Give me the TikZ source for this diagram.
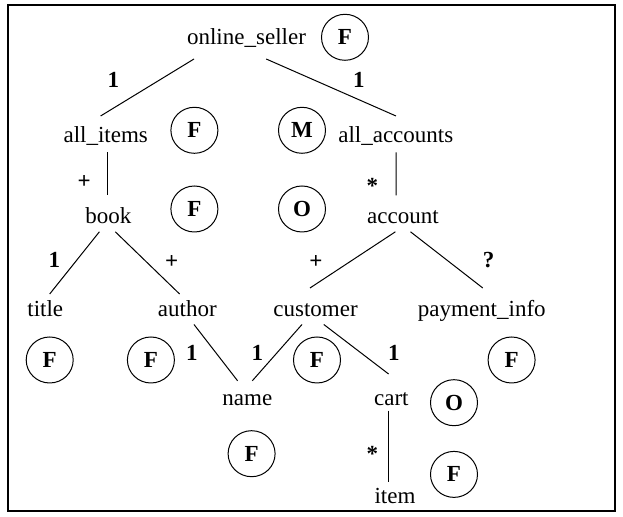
\documentclass[tikz,border=0pt]{standalone}
\usepackage{fontspec}
\setmainfont{Liberation Serif}
\usetikzlibrary{shapes.geometric}
\begin{document}
\begin{tikzpicture}[x=0.5pt,y=-0.5pt,
  elem/.style={inner sep=0pt,anchor=base,font=\fontsize{11.5}{14}\selectfont},
  card/.style={inner sep=0pt,font=\fontsize{11.5}{14}\selectfont\bfseries},
  tag/.style={draw,line width=0.5pt,ellipse,minimum width=23.5pt,minimum height=23pt,inner sep=0pt,font=\fontsize{11.5}{14}\selectfont\bfseries},
  edge/.style={line width=0.5pt}]
\useasboundingbox (0,0) rectangle (623,517);
\draw[line width=1pt] (8,5) rectangle (615,511);

% element names (placed on their baselines)
\node[elem] (seller)   at (246.5,44.7)  {online\_seller};
\node[elem] (items)    at (105.7,142.4) {all\_items};
\node[elem] (accounts) at (395.8,142.4) {all\_accounts};
\node[elem] (book)     at (108.4,223.5) {book};
\node[elem] (account)  at (403,223.5)   {account};
\node[elem] (title)    at (45.3,316.3)  {title};
\node[elem] (author)   at (187.3,316.3) {author};
\node[elem] (customer) at (315.5,316.3) {customer};
\node[elem] (payment)  at (481.8,316.3) {payment\_info};
\node[elem] (name)     at (247.3,405.7) {name};
\node[elem] (cart)     at (391.4,405.7) {cart};
\node[elem] (item)     at (395,503.4)   {item};

% circled markers
\node[tag] (t1)  at (345,37.3)   {F};
\node[tag] (t2)  at (194.4,130.3) {F};
\node[tag] (t3)  at (302,130.3)  {M};
\node[tag] (t4)  at (194.4,209)  {F};
\node[tag] (t5)  at (302,209)    {O};
\node[tag] (t6)  at (49.7,360)   {F};
\node[tag] (t7)  at (150.9,360)  {F};
\node[tag] (t8)  at (317,360)    {F};
\node[tag] (t9)  at (511.6,360)  {F};
\node[tag] (t10) at (454,402.7)  {O};
\node[tag] (t11) at (251.6,453.7) {F};
\node[tag] (t12) at (454,474.4)  {F};

% tree edges
\draw[edge] ([shift={(-52.5,14.3)}]seller.base) -- ([shift={(-5.1,-26.4)}]items.base);
\draw[edge] ([shift={(19.7,14.3)}]seller.base) -- ([shift={(0.2,-26.4)}]accounts.base);
\draw[edge] ([shift={(1.6,10)}]items.base) -- ([shift={(-1.1,-28.1)}]book.base);
\draw[edge] ([shift={(0.2,10)}]accounts.base) -- ([shift={(-7,-28.1)}]account.base);
\draw[edge] ([shift={(-9,8.3)}]book.base) -- ([shift={(4.4,-22.3)}]title.base);
\draw[edge] ([shift={(6.9,8.3)}]book.base) -- ([shift={(-7.7,-22.3)}]author.base);
\draw[edge] ([shift={(-7.6,8.3)}]account.base) -- ([shift={(-5.5,-28.3)}]customer.base);
\draw[edge] ([shift={(7.5,8.3)}]account.base) -- ([shift={(1,-28.3)}]payment.base);
\draw[edge] ([shift={(6.7,8.2)}]author.base) -- ([shift={(-9.7,-24.9)}]name.base);
\draw[edge] ([shift={(-13.5,8.2)}]customer.base) -- ([shift={(5,-24.9)}]name.base);
\draw[edge] ([shift={(8.3,8.2)}]customer.base) -- ([shift={(-2.8,-31.7)}]cart.base);
\draw[edge] ([shift={(-2.8,4.9)}]cart.base) -- ([shift={(-6.4,-21.6)}]item.base);

% cardinalities
\node[card] (c1)  at (113.3,79.5) {1};
\node[card] (c2)  at (358.8,79.5) {1};
\node[card] (c3)  at (84.3,182)   {+};
\node[card] (c4)  at (372.3,186)  {*};
\node[card] (c5)  at (54.5,260)   {1};
\node[card] (c6)  at (171.7,262)  {+};
\node[card] (c7)  at (316,262)    {+};
\node[card] (c8)  at (488.7,260)  {?};
\node[card] (c9)  at (192,352.7)  {1};
\node[card] (c10) at (257.5,352.7) {1};
\node[card] (c11) at (394,352.7)  {1};
\node[card] (c12) at (372.3,454)  {*};
\end{tikzpicture}
\end{document}
